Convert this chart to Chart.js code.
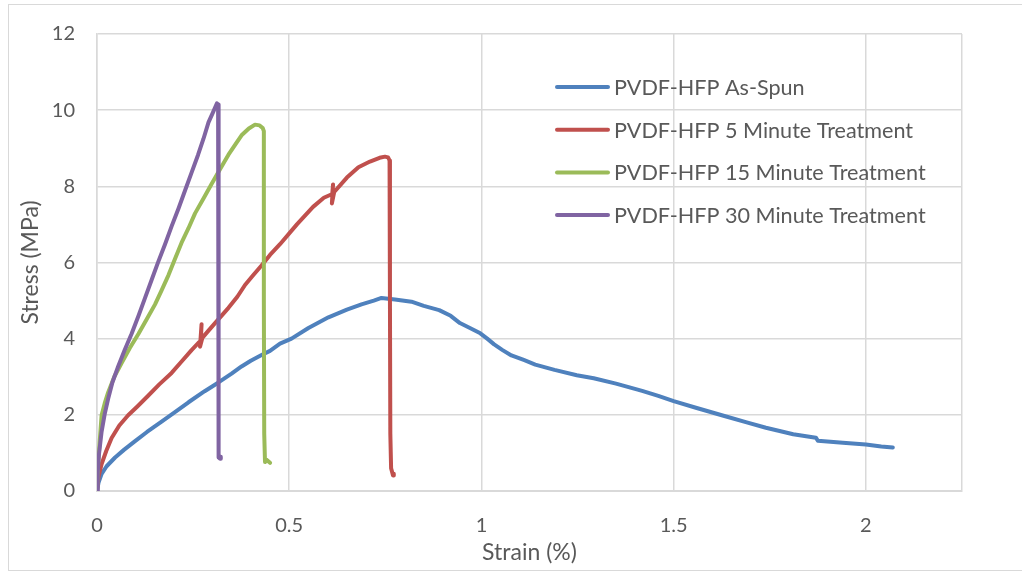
<!DOCTYPE html>
<html>
<head>
<meta charset="utf-8">
<script src="https://cdn.jsdelivr.net/npm/chart.js@4.4.1/dist/chart.umd.min.js"></script>
<style>
  html, body { margin: 0; padding: 0; background: #fff; }
  #wrap { position: relative; width: 1022px; height: 572px; overflow: hidden; }
  #frame { position: absolute; left: 8px; top: 4px; width: 1100px; height: 565px; border: 1px solid #d9d9d9; }
  #chart { position: absolute; left: 0; top: 0; }
</style>
</head>
<body>
<div id="wrap">
  <div id="frame"></div>
  <canvas id="chart" width="1022" height="572"></canvas>
</div>
<script>
// ===================== Tensile test curves =====================
const seriesLabels = [
  'PVDF-HFP As-Spun',
  'PVDF-HFP 5 Minute Treatment',
  'PVDF-HFP 15 Minute Treatment',
  'PVDF-HFP 30 Minute Treatment'
];
const seriesColors = ['#4f81bd', '#c0504d', '#9bbb59', '#8064a2'];

const asSpunStrain = [0, 0.004, 0.012, 0.025, 0.047, 0.07, 0.099, 0.13, 0.168, 0.2, 0.238, 0.28, 0.316, 0.35,
  0.376, 0.4, 0.428, 0.45, 0.476, 0.506, 0.55, 0.602, 0.65, 0.688, 0.72, 0.74, 0.775, 0.818, 0.85, 0.89, 0.92,
  0.944, 0.97, 0.997, 1.015, 1.033, 1.055, 1.078, 1.11, 1.14, 1.19, 1.248, 1.292, 1.35, 1.418, 1.46, 1.5, 1.56,
  1.632, 1.69, 1.74, 1.811, 1.87, 1.875, 1.94, 2.0, 2.04, 2.07];
const asSpunStress = [0, 0.22, 0.45, 0.65, 0.88, 1.08, 1.31, 1.55, 1.82, 2.05, 2.33, 2.62, 2.85, 3.08,
  3.27, 3.42, 3.57, 3.68, 3.87, 4.0, 4.28, 4.56, 4.76, 4.9, 5.0, 5.07, 5.03, 4.97, 4.86, 4.75, 4.6,
  4.41, 4.28, 4.14, 4.0, 3.85, 3.7, 3.56, 3.44, 3.32, 3.18, 3.04, 2.96, 2.82, 2.63, 2.5, 2.36, 2.18,
  1.97, 1.8, 1.66, 1.49, 1.4, 1.32, 1.27, 1.22, 1.17, 1.14];

const min5Strain = [0, 0.004, 0.012, 0.024, 0.038, 0.058, 0.081, 0.105, 0.133, 0.162, 0.194, 0.22, 0.246, 0.265,
  0.27, 0.272, 0.268, 0.274, 0.29, 0.315, 0.342, 0.365, 0.385, 0.405, 0.428, 0.45, 0.476, 0.52, 0.562, 0.59,
  0.612, 0.614, 0.611, 0.617, 0.65, 0.68, 0.71, 0.735, 0.749, 0.757, 0.761, 0.762, 0.763, 0.765, 0.77, 0.772];
const min5Stress = [0, 0.38, 0.71, 1.05, 1.39, 1.72, 1.99, 2.22, 2.5, 2.8, 3.1, 3.4, 3.7, 3.9,
  3.95, 4.38, 3.79, 4.02, 4.21, 4.5, 4.81, 5.1, 5.41, 5.65, 5.92, 6.2, 6.48, 7.0, 7.46, 7.7,
  7.8, 8.05, 7.55, 7.85, 8.23, 8.5, 8.65, 8.75, 8.78, 8.76, 8.68, 5.0, 1.5, 0.6, 0.41, 0.45];

const min15Strain = [0, 0.003, 0.007, 0.012, 0.02, 0.029, 0.045, 0.064, 0.085, 0.108, 0.13, 0.151, 0.168, 0.186,
  0.203, 0.22, 0.238, 0.255, 0.277, 0.298, 0.32, 0.342, 0.36, 0.376, 0.395, 0.411, 0.423, 0.431, 0.434, 0.434,
  0.435, 0.437, 0.441, 0.45];
const min15Stress = [0, 0.7, 1.3, 1.99, 2.3, 2.59, 3.0, 3.36, 3.75, 4.13, 4.52, 4.9, 5.27, 5.67,
  6.1, 6.52, 6.9, 7.29, 7.68, 8.06, 8.45, 8.83, 9.1, 9.34, 9.52, 9.62, 9.6, 9.53, 9.45, 5.0,
  1.5, 0.76, 0.82, 0.74];

const min30Strain = [0, 0.002, 0.005, 0.012, 0.02, 0.029, 0.04, 0.055, 0.072, 0.09, 0.108, 0.125, 0.142, 0.159,
  0.177, 0.194, 0.212, 0.229, 0.246, 0.263, 0.277, 0.29, 0.302, 0.312, 0.315, 0.316, 0.316, 0.317, 0.32, 0.322];
const min30Stress = [0, 0.5, 0.95, 1.56, 2.02, 2.42, 2.85, 3.27, 3.7, 4.13, 4.6, 5.07, 5.54, 6.01,
  6.48, 6.95, 7.42, 7.89, 8.36, 8.83, 9.25, 9.68, 9.95, 10.18, 10.15, 5.0, 1.0, 0.88, 0.85, 0.9];

const xTicks = [0, 0.5, 1, 1.5, 2];
const yTicks = [0, 2, 4, 6, 8, 10, 12];

const FONT = 'Lato, "Open Sans", sans-serif';
const TEXT = '#595959';
const GRID = '#d9d9d9';

function pairs(xs, ys) {
  return xs.map(function (x, i) { return { x: x, y: ys[i] }; });
}

const curves = [
  pairs(asSpunStrain, asSpunStress),
  pairs(min5Strain, min5Stress),
  pairs(min15Strain, min15Stress),
  pairs(min30Strain, min30Stress)
];

// legend sits inside the plot, to the right of the curves
const insideLegend = {
  id: 'insideLegend',
  afterDatasetsDraw: function (chart) {
    const ctx = chart.ctx;
    ctx.save();
    ctx.font = '21.6px ' + FONT;
    ctx.textBaseline = 'middle';
    ctx.lineCap = 'round';
    chart.data.datasets.forEach(function (ds, i) {
      const y = 87 + i * 42.7;
      ctx.strokeStyle = ds.borderColor;
      ctx.lineWidth = 4;
      ctx.beginPath();
      ctx.moveTo(557, y);
      ctx.lineTo(608, y);
      ctx.stroke();
      ctx.fillStyle = TEXT;
      ctx.fillText(ds.label, 614, y + 1);
    });
    ctx.restore();
  }
};

new Chart(document.getElementById('chart'), {
  type: 'scatter',
  data: {
    datasets: curves.map(function (pts, i) {
      return {
        label: seriesLabels[i],
        data: pts,
        showLine: true,
        borderColor: seriesColors[i],
        backgroundColor: seriesColors[i],
        borderWidth: 4,
        borderCapStyle: 'round',
        borderJoinStyle: 'round',
        pointRadius: 0,
        tension: 0,
        order: 4 - i
      };
    })
  },
  options: {
    responsive: false,
    animation: false,
    layout: { padding: { left: 0, top: 23, right: 60, bottom: 0 } },
    plugins: {
      legend: { display: false },
      tooltip: { enabled: false }
    },
    scales: {
      x: {
        type: 'linear',
        min: 0,
        max: 2.25,
        afterBuildTicks: function (axis) {
          axis.ticks = xTicks.concat([2.25]).map(function (v) { return { value: v }; });
        },
        afterFit: function (axis) { axis.height = 81; },
        grid: { color: GRID, lineWidth: 1.5, drawTicks: false },
        border: { color: GRID, width: 2 },
        ticks: {
          autoSkip: false,
          maxRotation: 0,
          padding: 23,
          color: TEXT,
          font: { family: FONT, size: 20 },
          callback: function (v) { return v > 2.1 ? '' : String(v); }
        },
        title: {
          display: true,
          text: 'Strain (%)',
          color: TEXT,
          font: { family: FONT, size: 23 },
          padding: { top: 0, bottom: 6 }
        }
      },
      y: {
        type: 'linear',
        min: 0,
        max: 12,
        afterBuildTicks: function (axis) {
          axis.ticks = yTicks.map(function (v) { return { value: v }; });
        },
        afterFit: function (axis) { axis.width = 97; },
        grid: { color: GRID, lineWidth: 1.5, drawTicks: false },
        border: { color: GRID, width: 1.5 },
        ticks: {
          padding: 22,
          color: TEXT,
          font: { family: FONT, size: 20 }
        },
        title: {
          display: true,
          text: 'Stress (MPa)',
          color: TEXT,
          font: { family: FONT, size: 23 },
          padding: { top: 17, bottom: 0 }
        }
      }
    }
  },
  plugins: [insideLegend]
});
</script>
</body>
</html>
